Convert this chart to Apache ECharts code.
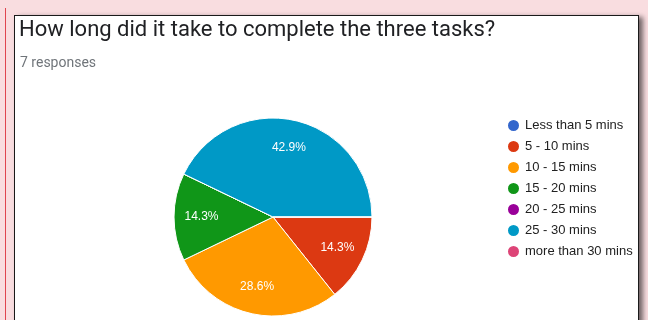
<!DOCTYPE html>
<html>
<head>
<meta charset="utf-8">
<script src="https://cdn.jsdelivr.net/npm/echarts@6/dist/echarts.min.js"></script>
<style>
  html, body { margin: 0; padding: 0; }
  body { width: 648px; height: 320px; background: #f9dde0; position: relative; overflow: hidden; }
  #redline { position: absolute; left: 5px; top: 8px; width: 1px; height: 320px; background: #e0454f; }
  #panel { position: absolute; left: 14px; top: 15px; width: 623px; height: 330px; background: #fff;
           border: 1px solid #1a1a1a; box-shadow: 4px 2px 5px rgba(0,0,0,0.55); }
  #main { position: absolute; left: 0; top: 0; width: 648px; height: 320px; }
</style>
</head>
<body>
<div id="redline"></div>
<div id="panel"></div>
<div id="main"></div>
<script>
// answers and how many picked each one (7 responses)
var categories = ['Less than 5 mins', '5 - 10 mins', '10 - 15 mins', '15 - 20 mins', '20 - 25 mins', '25 - 30 mins', 'more than 30 mins'];
var responses = [0, 1, 2, 1, 0, 3, 0];
var palette = ['#3366cc', '#dc3912', '#ff9900', '#109618', '#990099', '#0099c6', '#dd4477'];

var total = responses.reduce(function (a, b) { return a + b; }, 0);
var pieData = categories.map(function (name, i) {
  return { name: name, value: responses[i] };
});

var myChart = echarts.init(document.getElementById('main'));

myChart.setOption({
  color: palette,
  animation: false,
  title: [
    {
      text: 'How long did it take to complete the three tasks?',
      left: 19,
      top: 19,
      padding: 0,
      textStyle: { fontFamily: 'Roboto', fontSize: 22, fontWeight: 'normal', color: '#202124' }
    },
    {
      text: total + ' responses',
      left: 20,
      top: 56,
      padding: 0,
      textStyle: { fontFamily: 'Roboto', fontSize: 14, fontWeight: 'normal', color: '#70757a' }
    }
  ],
  legend: {
    orient: 'vertical',
    left: 506,
    top: 118,
    padding: 0,
    icon: 'circle',
    itemWidth: 13,
    itemHeight: 13,
    itemGap: 6,
    selectedMode: false,
    data: categories,
    textStyle: { fontFamily: 'Liberation Sans', fontSize: 13, color: '#222' }
  },
  series: [
    {
      // the visible pie
      type: 'pie',
      center: [273, 217],
      radius: [0, 99],
      startAngle: 0,
      clockwise: true,
      silent: true,
      data: pieData,
      itemStyle: { borderColor: '#fff', borderWidth: 1 },
      label: { show: false },
      labelLine: { show: false }
    },
    {
      // invisible twin, only used to place the percentage labels further out
      type: 'pie',
      center: [273, 217],
      radius: [0, 137],
      startAngle: 0,
      clockwise: true,
      silent: true,
      data: pieData,
      itemStyle: { color: 'rgba(0,0,0,0)', borderWidth: 0 },
      label: {
        show: true,
        position: 'inside',
        color: '#fff',
        fontFamily: 'Liberation Sans',
        fontSize: 12,
        formatter: function (p) {
          if (!p.value) return '';
          return (p.value / total * 100).toFixed(1) + '%';
        }
      },
      labelLine: { show: false }
    }
  ]
});
</script>
</body>
</html>
